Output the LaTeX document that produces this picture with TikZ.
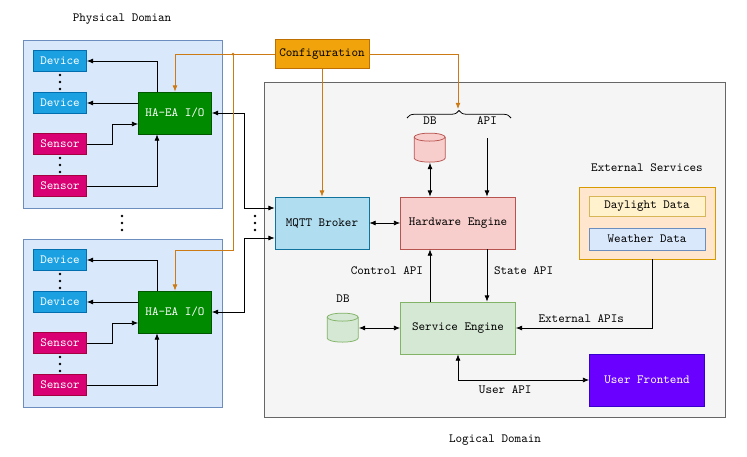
\documentclass[tikz,border=0pt]{standalone}
\usetikzlibrary{positioning,arrows.meta,decorations.pathreplacing}

\definecolor{physfill}{HTML}{DAE8FC}
\definecolor{physline}{HTML}{6C8EBF}
\definecolor{devfill}{HTML}{1BA1E2}
\definecolor{devline}{HTML}{006EAF}
\definecolor{senfill}{HTML}{D80073}
\definecolor{senline}{HTML}{A50040}
\definecolor{hafill}{HTML}{008A00}
\definecolor{haline}{HTML}{005700}
\definecolor{cfgfill}{HTML}{F0A30A}
\definecolor{cfgline}{HTML}{BD7000}
\definecolor{cfgwire}{HTML}{CC7A14}
\definecolor{logfill}{HTML}{F5F5F5}
\definecolor{logline}{HTML}{666666}
\definecolor{mqfill}{HTML}{B1DDF0}
\definecolor{mqline}{HTML}{10739E}
\definecolor{hwfill}{HTML}{F8CECC}
\definecolor{hwline}{HTML}{B85450}
\definecolor{svfill}{HTML}{D5E8D4}
\definecolor{svline}{HTML}{82B366}
\definecolor{uffill}{HTML}{6A00FF}
\definecolor{ufline}{HTML}{3700CC}
\definecolor{extfill}{HTML}{FFE6CC}
\definecolor{extline}{HTML}{D79B00}
\definecolor{dayfill}{HTML}{FFF2CC}
\definecolor{dayline}{HTML}{D6B656}

\tikzset{
    box/.style={draw, rectangle, inner sep=0pt},
    devbox/.style={box, fill=devfill, draw=devline, text=white, minimum width=42.4pt, minimum height=16.8pt},
    senbox/.style={box, fill=senfill, draw=senline, text=white, minimum width=42.4pt, minimum height=16.8pt},
    habox/.style={box, fill=hafill, draw=haline, text=white, minimum width=58.4pt, minimum height=33.6pt},
    cfgbox/.style={box, fill=cfgfill, draw=cfgline, minimum width=75.2pt, minimum height=23.2pt},
    engbox/.style={box, minimum width=92pt, minimum height=41.6pt},
    dbcan/.style={rectangle, inner sep=0pt, minimum width=24.8pt, minimum height=23.2pt},
    cfgarrow/.style={draw=cfgwire, ->},
}

\begin{document}
\begin{tikzpicture}[x=0.8pt,y=-0.8pt]
    \useasboundingbox (0,0) rectangle (747,456);
    \begin{scope}[line width=0.6pt,>={Latex[length=5pt,width=4pt]},font=\ttfamily]

    % physical side, two identical groups
    \foreach \i/\dy in {1/0,2/199}{%
        \draw [fill=physfill, draw=physline] (23,40+\dy) rectangle (222,208+\dy);
        \node [devbox] (dev\i a) at (60,61+\dy)  {Device};
        \node [devbox] (dev\i b) at (60,103+\dy) {Device};
        \node [senbox] (sen\i a) at (60,144+\dy) {Sensor};
        \node [senbox] (sen\i b) at (60,186+\dy) {Sensor};
        \node [habox] (ha\i) at (175,113+\dy) {HA-EA I/O};
        \draw [->] ([xshift=-14.4pt]ha\i.north) |- (dev\i a);
        \draw [->] (ha\i.west |- dev\i b) -- (dev\i b);
        \draw [->] (sen\i a) -- (112,144+\dy) |- ([yshift=-8.8pt]ha\i.west);
        \draw [->] (sen\i b) -| ([xshift=-14.4pt]ha\i.south);
        \foreach \d in {-7,0,7}{%
            \fill (60,82+\d+\dy) circle (1.1pt);
            \fill (60,165+\d+\dy) circle (1.1pt);}}
    \foreach \d in {-7,0,7}{%
        \fill (122,223+\d) circle (1.1pt);
        \fill (255,223+\d) circle (1.1pt);}
    \node (physlbl) at (122,19) {Physical Domian};

    % logical side
    \draw [fill=logfill, draw=logline] (264,82) rectangle (725,417);
    \node (loglbl) at (495,440) {Logical Domain};

    \node [cfgbox] (cfg) at (322,54) {Configuration};
    \node [engbox, fill=mqfill, draw=mqline, minimum width=75.2pt] (mqtt) at (322,223) {MQTT Broker};
    \node [engbox, fill=hwfill, draw=hwline] (hw) at (458,223) {Hardware Engine};
    \node [engbox, fill=svfill, draw=svline] (sv) at (458,328) {Service Engine};
    \node [engbox, fill=uffill, draw=ufline, text=white] (uf) at (647,380) {User Frontend};

    % database cans
    \node [dbcan] (hwdb) at (430,148) {};
    \node [dbcan] (svdb) at (343,328) {};
    \foreach \db/\fc/\lc in {hwdb/hwfill/hwline, svdb/svfill/svline}{%
        \draw [fill=\fc, draw=\lc] (\db.north west) ++(0pt,-3.2pt) -- ++(0pt,-16.8pt)
            arc [start angle=180, end angle=360, x radius=12.4pt, y radius=3.2pt] -- ++(0pt,16.8pt)
            arc [start angle=0, end angle=180, x radius=12.4pt, y radius=3.2pt] -- cycle;
        \draw [draw=\lc] (\db.north west) ++(0pt,-3.2pt)
            arc [start angle=180, end angle=360, x radius=12.4pt, y radius=3.2pt];}
    \node (hwdblbl) at (430,121) {DB};
    \node (apilbl) at (487,121) {API};
    \node (svdblbl) at (343,299) {DB};

    \node [box, fill=extfill, draw=extline, minimum width=108.8pt, minimum height=57.6pt] (ext) at (647,223) {};
    \node [box, fill=dayfill, draw=dayline, minimum width=92.8pt, minimum height=16pt] (day) at (647,206) {Daylight Data};
    \node [box, fill=physfill, draw=physline, minimum width=92.8pt, minimum height=17.6pt] (wx) at (647,239) {Weather Data};
    \node (extlbl) at (647,168) {External Services};

    \draw [decorate, decoration={brace,amplitude=6pt}] (407,118) -- (511,118);
    \coordinate (brtip) at (458,109);
    \coordinate (apiend) at (487,138);

    \draw [<->] (ha1) -- (244,113) |- ([yshift=12pt]mqtt.west);
    \draw [<->] (ha2) -- (244,312) |- ([yshift=-12pt]mqtt.west);

    \draw [<->] (mqtt) -- (hw);
    \draw [<->] (hwdb) -- (hwdb |- hw.north);
    \draw [->] (apiend) -- (apiend |- hw.north);
    \draw [->] (sv.north -| hwdb) -- (hw.south -| hwdb) node [pos=0.6, left=2pt] {Control API};
    \draw [->] (hw.south -| apiend) -- (sv.north -| apiend) node [pos=0.4, right=2pt] {State API};
    \draw [<->] (svdb) -- (sv);
    \draw [->] ([xshift=4pt]ext.south) |- (sv.east) node [pos=0.76, above=1pt] {External APIs};
    \draw [<->] (sv.south) |- (uf.west) node [pos=0.68, below=1pt] {User API};

    % configuration wires
    \coordinate (cfgjoin) at (233,54);
    \coordinate (cfgturn) at (233,250);
    \draw [cfgarrow] (cfg) -- (mqtt);
    \draw [cfgarrow] (cfg) -| (brtip);
    \draw [cfgarrow] (cfg) -| (ha1);
    \draw [cfgarrow] (cfgjoin) -- (cfgturn) -| (ha2);
    \fill [cfgwire] (cfgjoin) circle (1.2pt);
\end{scope}
\end{tikzpicture}
\end{document}
